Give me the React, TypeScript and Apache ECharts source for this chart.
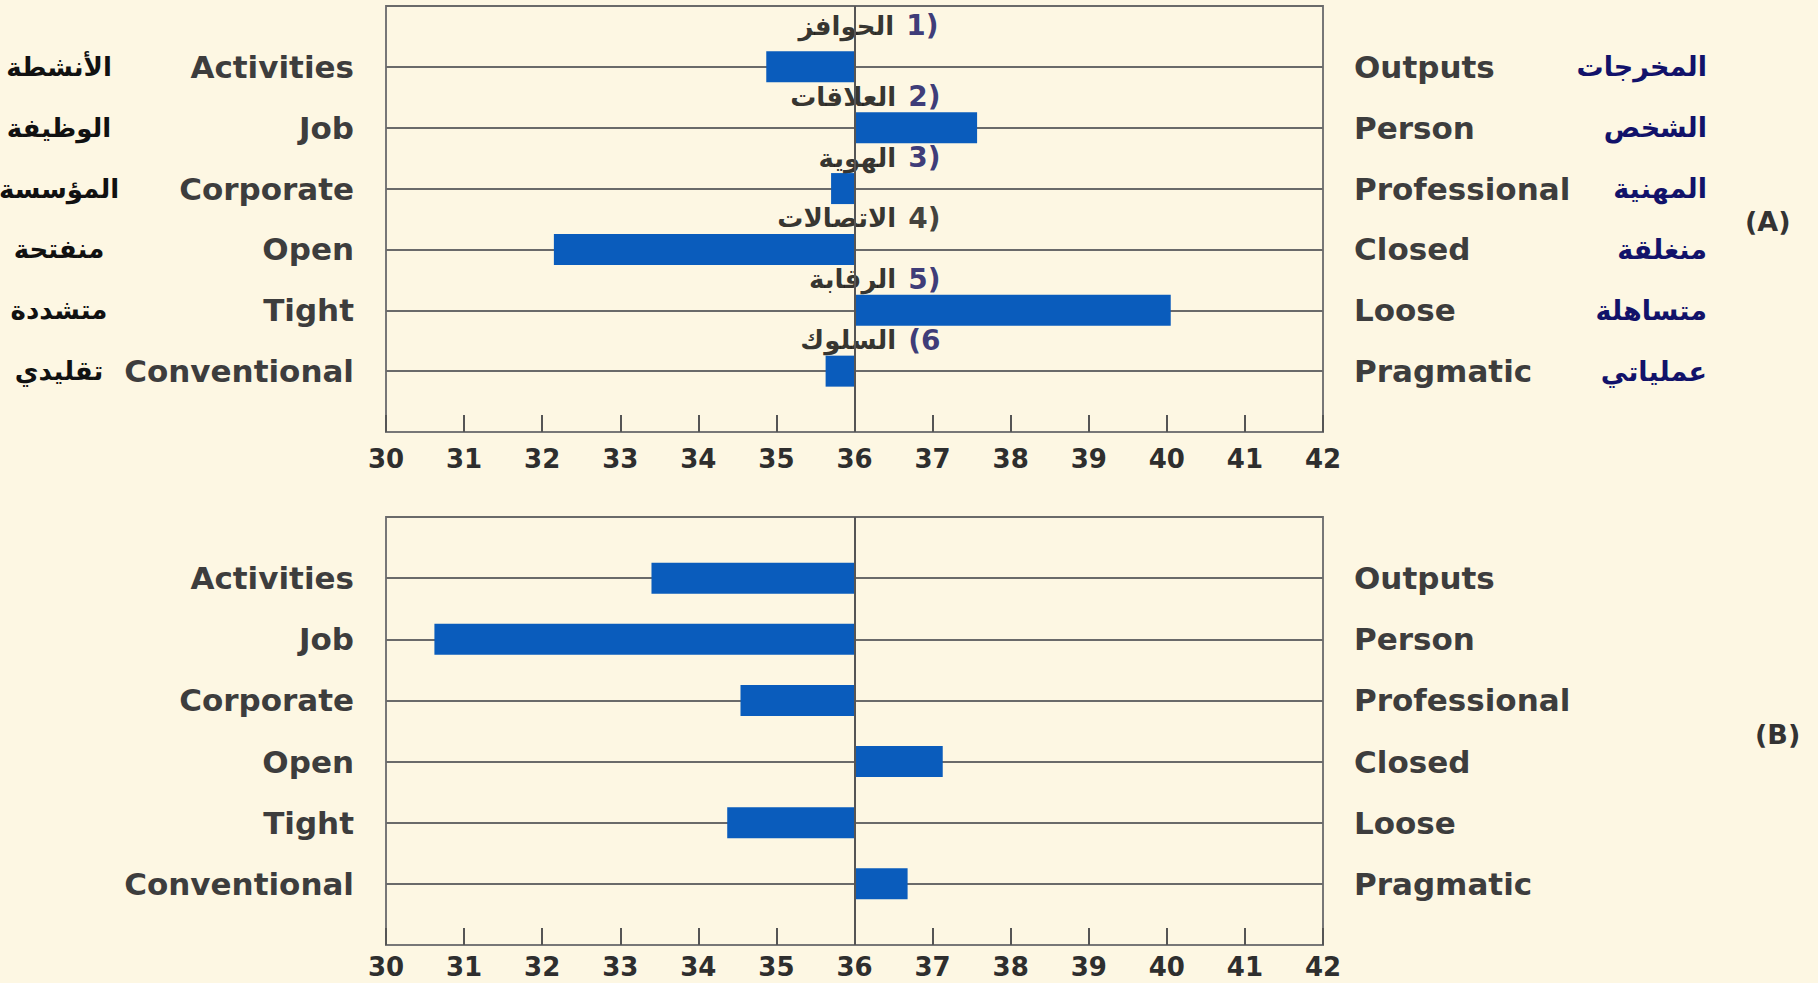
import React, { useEffect, useRef } from "react";
import * as echarts from "echarts";

// ---- data ----
const leftCats = ["Activities", "Job", "Corporate", "Open", "Tight", "Conventional"];
const rightCats = ["Outputs", "Person", "Professional", "Closed", "Loose", "Pragmatic"];
const leftArabic = ["الأنشطة", "الوظيفة", "المؤسسة", "منفتحة", "متشددة", "تقليدي"];
const rightArabic = ["المخرجات", "الشخص", "المهنية", "منغلقة", "متساهلة", "عملياتي"];
const dimNames = ["الحوافز", "العلاقات", "الهوية", "الاتصالات", "الرقابة", "السلوك"];
const dimNums = ["1)", "2)", "3)", "4)", "5)", "(6"];
const dimNumColors = ["#0a0a5c", "#0a0a5c", "#0a0a5c", "#111111", "#0a0a5c", "#0a0a5c"];
const valuesA = [34.87, 37.57, 35.7, 32.15, 40.05, 35.63];
const valuesB = [33.4, 30.62, 34.54, 37.13, 34.37, 36.68];
const xMin = 30;
const xMax = 42;
const xInterval = 1;
const midpoint = 36;
const panelTitles = ["(A)", "(B)"];

const pad = (arr: any[]) => ["", ...arr, ""];

const FONT = "DejaVu Sans";
const BG = "#FDF7E3";
const BAR = "#0A5CBC";
const GRID = "#6a6a6a";

export default function App() {
  const ref = useRef<HTMLDivElement>(null);

  useEffect(() => {
    if (!ref.current) return;
    const chart = echarts.init(ref.current, null, { renderer: "svg" });

    const grids = [
      { left: 386, top: 6, width: 937, height: 426 },
      { left: 386, top: 517, width: 937, height: 428 },
    ];
    const labelMargins = [14, 9];

    const xAxes: any[] = grids.map((_, gi) => ({
      type: "value",
      gridIndex: gi,
      min: xMin,
      max: xMax,
      interval: xInterval,
      axisLine: { show: true, lineStyle: { color: "#777", width: 2 } },
      axisTick: { show: true, inside: true, length: 17, lineStyle: { color: "#555", width: 2 } },
      splitLine: { show: false },
      axisLabel: {
        margin: labelMargins[gi],
        fontFamily: FONT,
        fontWeight: "bold",
        fontSize: 26,
        lineHeight: 26,
        color: "#2e2e2e",
      },
    }));

    const catAxisBase = (gi: number) => ({
      type: "category",
      gridIndex: gi,
      inverse: true,
      boundaryGap: false,
      axisLine: { show: false },
      axisTick: { show: false },
    });

    const enLabel = {
      fontFamily: FONT,
      fontWeight: "bold",
      fontSize: 31,
      color: "#3d3d3d",
    };

    const yAxes: any[] = [];
    const series: any[] = [];

    [valuesA, valuesB].forEach((vals, gi) => {
      const leftIdx = yAxes.length;
      yAxes.push({
        ...catAxisBase(gi),
        position: "left",
        data: pad(leftCats),
        splitLine: { show: true, lineStyle: { color: GRID, width: 2 } },
        axisLabel: { ...enLabel, margin: 32 },
      });
      yAxes.push({
        ...catAxisBase(gi),
        position: "right",
        data: pad(rightCats),
        splitLine: { show: false },
        axisLabel: { ...enLabel, margin: 31 },
      });
      if (gi === 0) {
        yAxes.push({
          ...catAxisBase(gi),
          position: "left",
          data: pad(leftArabic),
          splitLine: { show: false },
          axisLabel: {
            margin: 327,
            align: "center",
            fontFamily: FONT,
            fontWeight: "bold",
            fontSize: 26,
            color: "#111",
          },
        });
        yAxes.push({
          ...catAxisBase(gi),
          position: "right",
          data: pad(rightArabic),
          splitLine: { show: false },
          axisLabel: {
            margin: 384,
            align: "right",
            fontFamily: FONT,
            fontWeight: "bold",
            fontSize: 27,
            color: "#12126a",
          },
        });
      }

      const base = [null, ...vals.map((v) => Math.min(v, midpoint)), null];
      const delta = [null, ...vals.map((v) => Math.abs(v - midpoint)), null];
      series.push({
        type: "bar",
        xAxisIndex: gi,
        yAxisIndex: leftIdx,
        stack: "s" + gi,
        data: base,
        barWidth: 31,
        itemStyle: { color: "rgba(0,0,0,0)" },
        silent: true,
      });
      series.push({
        type: "bar",
        xAxisIndex: gi,
        yAxisIndex: leftIdx,
        stack: "s" + gi,
        data: delta,
        barWidth: 31,
        itemStyle: { color: BAR },
        markLine: {
          silent: true,
          symbol: "none",
          label: { show: false },
          lineStyle: { color: "#555", width: 2, type: "solid" },
          data: [{ xAxis: midpoint }],
        },
      });

      if (gi === 0) {
        series.push({
          type: "scatter",
          xAxisIndex: gi,
          yAxisIndex: leftIdx,
          symbolSize: 0,
          silent: true,
          data: dimNames.map((n, i) => ({
            value: [midpoint, i + 1],
            label: {
              formatter: `{ar|${n}}{sp| }{n${i}|${dimNums[i]}}`,
              offset: i === 0 ? [84, -41] : [86, -31],
            },
          })),
          label: {
            show: true,
            position: "inside",
            align: "right",
            verticalAlign: "middle",
            rich: {
              ar: { fontFamily: FONT, fontWeight: "bold", fontSize: 26, color: "#000" },
              sp: { width: 12 },
              ...Object.fromEntries(
                dimNumColors.map((c, i) => [
                  "n" + i,
                  { fontFamily: FONT, fontWeight: "bold", fontSize: 28, color: c },
                ])
              ),
            },
          },
        });
      }
    });

    chart.setOption({
      animation: false,
      backgroundColor: BG,
      textStyle: { fontFamily: FONT },
      title: [
        {
          text: panelTitles[0],
          left: 1740,
          top: 203,
          textStyle: { fontFamily: FONT, fontWeight: "bold", fontSize: 27, color: "#333" },
        },
        {
          text: panelTitles[1],
          left: 1750,
          top: 716,
          textStyle: { fontFamily: FONT, fontWeight: "bold", fontSize: 27, color: "#333" },
        },
      ],
      grid: grids.map((g) => ({
        ...g,
        show: true,
        borderColor: "#777",
        borderWidth: 2,
        backgroundColor: "transparent",
        outerBoundsMode: "none",
        containLabel: false,
      })),
      xAxis: xAxes,
      yAxis: yAxes,
      series,
    });

    return () => chart.dispose();
  }, []);

  return (
    <div
      ref={ref}
      style={{
        position: "fixed",
        left: 0,
        top: 0,
        width: 1818,
        height: 983,
        background: BG,
      }}
    />
  );
}
